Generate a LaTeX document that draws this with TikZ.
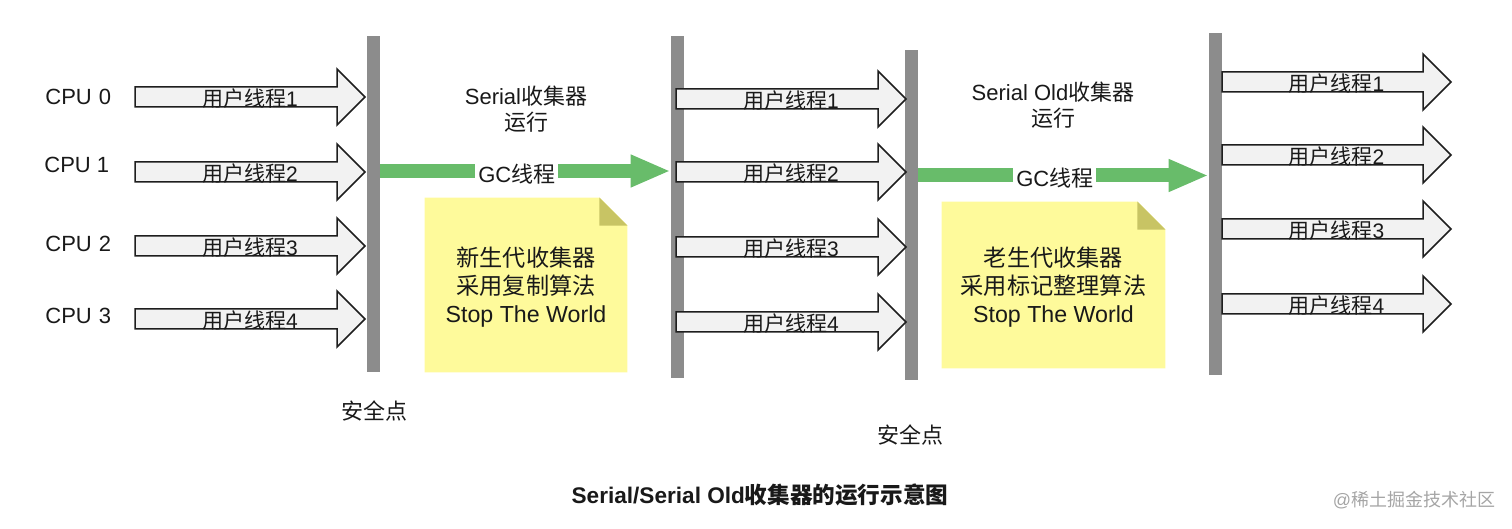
\documentclass[tikz,border=0pt]{standalone}
\usepackage{fontspec}
\setmainfont{Liberation Sans}
\newfontfamily\cjk{Noto Sans CJK SC}
\newcommand\zh[1]{{\cjk #1}}
\usetikzlibrary{arrows.meta,backgrounds,calc}
\definecolor{barg}{RGB}{140,140,140}
\definecolor{arrfill}{RGB}{242,242,242}
\definecolor{arrline}{RGB}{30,30,30}
\definecolor{gcgreen}{RGB}{104,188,106}
\definecolor{notey}{RGB}{254,250,155}
\definecolor{notefold}{RGB}{200,196,100}
\definecolor{txt}{RGB}{25,25,25}
\definecolor{wm}{RGB}{165,165,165}
\newcommand\uthread[6]{%
  \draw[uarrow] (#2,#5-10) -- (#3,#5-10) -- (#3,#5-28) -- (#4,#5) -- (#3,#5+28) -- (#3,#5+10) -- (#2,#5+10) -- cycle;
  \node[ulabel] (#1) at ({(#2+#4)/2},#5+2) {#6};}
\begin{document}
\begin{tikzpicture}[x=0.5pt,y=-0.5pt,
  bar/.style={rectangle, fill=barg, inner sep=0pt, minimum width=6.5pt},
  uarrow/.style={fill=arrfill, draw=arrline, line width=0.75pt, line join=miter},
  ulabel/.style={inner sep=0pt, text=txt, font=\fontsize{10.5pt}{12pt}\selectfont},
  lbl/.style={inner sep=0pt, text=txt, align=center, font=\fontsize{11pt}{13pt}\selectfont},
  notebox/.style={inner sep=0pt, text=txt, align=center, font=\fontsize{11.6pt}{14pt}\selectfont},
  gc/.style={draw=gcgreen, line width=7pt, -{Triangle[length=20pt,width=15pt]}},
  gclabel/.style={fill=white, inner xsep=1.5pt, inner ysep=0pt, text=txt, font=\fontsize{11pt}{13pt}\selectfont}
]
\useasboundingbox (0,0) rectangle (1512,529);

% safe-point bars
\node[bar, minimum height=168pt] (b1) at (373.5,204) {};
\node[bar, minimum height=171pt] (b2) at (677.5,207) {};
\node[bar, minimum height=165pt] (b3) at (911.5,215) {};
\node[bar, minimum height=171pt] (b4) at (1215.5,204) {};

% CPU labels
\node[lbl, anchor=west] (cpu0) at (45,97) {CPU\hspace{0.5pt} 0};
\node[lbl, anchor=west] (cpu1) at (44,164.5) {CPU 1};
\node[lbl, anchor=west] (cpu2) at (45,243.5) {CPU\hspace{0.5pt} 2};
\node[lbl, anchor=west] (cpu3) at (45,315.5) {CPU\hspace{0.5pt} 3};

% user threads, group 1
\uthread{a1}{135}{337}{365}{97}{\zh{用户线程}1}
\uthread{a2}{135}{337}{365}{172}{\zh{用户线程}2}
\uthread{a3}{135}{337}{365}{246}{\zh{用户线程}3}
\uthread{a4}{135}{337}{365}{319}{\zh{用户线程}4}
% group 2
\uthread{c1}{676}{878}{906}{99}{\zh{用户线程}1}
\uthread{c2}{676}{878}{906}{172}{\zh{用户线程}2}
\uthread{c3}{676}{878}{906}{247}{\zh{用户线程}3}
\uthread{c4}{676}{878}{906}{322}{\zh{用户线程}4}
% group 3
\uthread{e1}{1222}{1423}{1451}{82}{\zh{用户线程}1}
\uthread{e2}{1222}{1423}{1451}{155}{\zh{用户线程}2}
\uthread{e3}{1222}{1423}{1451}{229}{\zh{用户线程}3}
\uthread{e4}{1222}{1423}{1451}{304}{\zh{用户线程}4}

% GC threads
\coordinate (gy1) at (0,171);
\coordinate (gy2) at (0,175.5);
\draw[gc] (b1.east |- gy1) -- (b2.west |- gy1)
  node[pos=0.47, gclabel, yshift=-1.5pt] (gc1) {GC\zh{线程}};
\draw[gc] (b3.east |- gy2) -- (b4.west |- gy2)
  node[pos=0.47, gclabel, yshift=-1.2pt] (gc2) {GC\zh{线程}};

% headings
\node[lbl] (h1) at (526,109) {Serial\zh{收集器}\\\zh{运行}};
\node[lbl] (h2) at (1053,105.5) {Serial Old\zh{收集器}\\\zh{运行}};

% notes
\node[notebox, minimum width=101pt, minimum height=87pt] (n1) at (526,285) {};
\node[notebox] (t1) at (526,287.5) {\zh{新生代收集器}\\\zh{采用复制算法}\\Stop The World};
\node[notebox, minimum width=111.5pt, minimum height=83pt] (n2) at (1053.5,285) {};
\node[notebox] (t2) at (1053.5,287.5) {\zh{老生代收集器}\\\zh{采用标记整理算法}\\Stop The World};
\begin{scope}[on background layer]
  \foreach \n in {n1,n2}{
    \fill[notey] (\n.south west) -- (\n.north west) -- ([xshift=-14pt]\n.north east)
      -- ([yshift=-14pt]\n.north east) -- (\n.south east) -- cycle;
    \fill[notefold] ([xshift=-14pt]\n.north east) -- ([xshift=-14pt,yshift=-14pt]\n.north east)
      -- ([yshift=-14pt]\n.north east) -- cycle;
  }
\end{scope}

% safe points
\node[lbl] (s1) at (374,411) {\zh{安全点}};
\node[lbl] (s2) at (910,435) {\zh{安全点}};

% title
\node[lbl, font=\bfseries\fontsize{11.3pt}{13pt}\selectfont] (title) at (760,495)
  {Serial/Serial Old{\cjk\bfseries 收集器的运行示意图}};
% watermark
\node[inner sep=0pt, text=wm, font=\fontsize{9pt}{11pt}\selectfont] (wm) at (1414,500)
  {@\zh{稀土掘金技术社区}};
\end{tikzpicture}
\end{document}
